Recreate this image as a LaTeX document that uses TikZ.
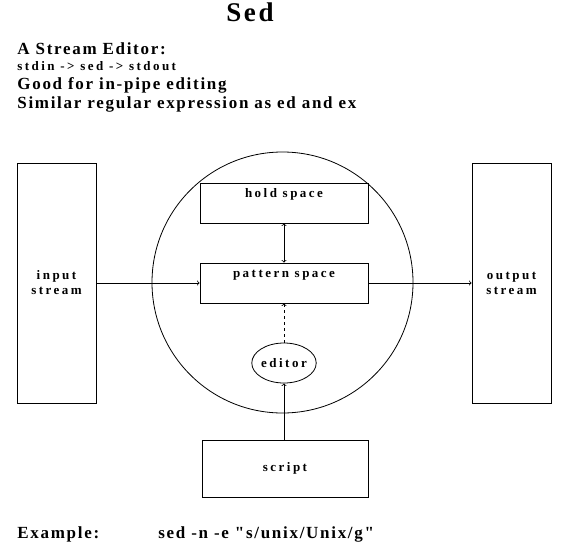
\documentclass[tikz,border=0pt]{standalone}
\usepackage{fontspec}
\setmainfont{Liberation Serif}
\newfontfamily\wide[LetterSpace=10]{Liberation Serif}
\newfontfamily\wider[LetterSpace=19]{Liberation Serif}
\usetikzlibrary{shapes.geometric}
\tikzset{
  box/.style={draw, line width=0.8pt, inner sep=4pt, font=\wider\bfseries\fontsize{13}{15}\selectfont, align=center},
  txt/.style={anchor=base west, inner sep=0pt, font=\wide\bfseries\fontsize{17}{19}\selectfont},
}
\begin{document}
\begin{tikzpicture}[x=1pt,y=-1pt,line width=0.8pt]
\useasboundingbox (0,0) rectangle (561,554);
% heading
\node[inner sep=0pt, font=\wide\bfseries\fontsize{27}{29}\selectfont] (title) at (250,12) {Sed};
\node[txt] (t1) at (17,54) {A Stream Editor:};
\node[txt, font=\wider\bfseries\fontsize{13}{15}\selectfont] (t2) at (17,70) {stdin -> sed -> stdout};
\node[txt] (t3) at (17,89) {Good for in-pipe editing};
\node[txt] (t4) at (17,108) {Similar regular expression as ed and ex};

% streams
\node[box, minimum width=79, minimum height=240] (input) at (56.5,283) {input\\stream};
\node[box, minimum width=79, minimum height=240] (output) at (511.5,283) {output\\stream};

% sed itself
\draw (282.5,282.5) circle (130.5);
\node[box, minimum width=168, minimum height=40, text height=9pt, text depth=21pt] (hold) at (284,203) {hold space};
\node[box, minimum width=168, minimum height=40, text height=9pt, text depth=21pt] (pattern) at (284,283) {pattern space};
\node[box, ellipse, minimum width=60, minimum height=40, inner sep=0pt] (editor) at (284,363) {editor};
\node[box, minimum width=166, minimum height=57] (script) at (285,468.5) {script};

\draw[<->] (hold) -- (pattern);
\draw[->] (input) -- (pattern);
\draw[->] (pattern) -- (output);
\draw[->, dashed] (editor) -- (pattern);
\draw[->] (script.north -| editor) -- (editor);

% example
\node[txt] (ex) at (17,538) {Example:};
\node[txt] (excmd) at (158,538) {sed -n -e "s/unix/Unix/g"};
\end{tikzpicture}
\end{document}
